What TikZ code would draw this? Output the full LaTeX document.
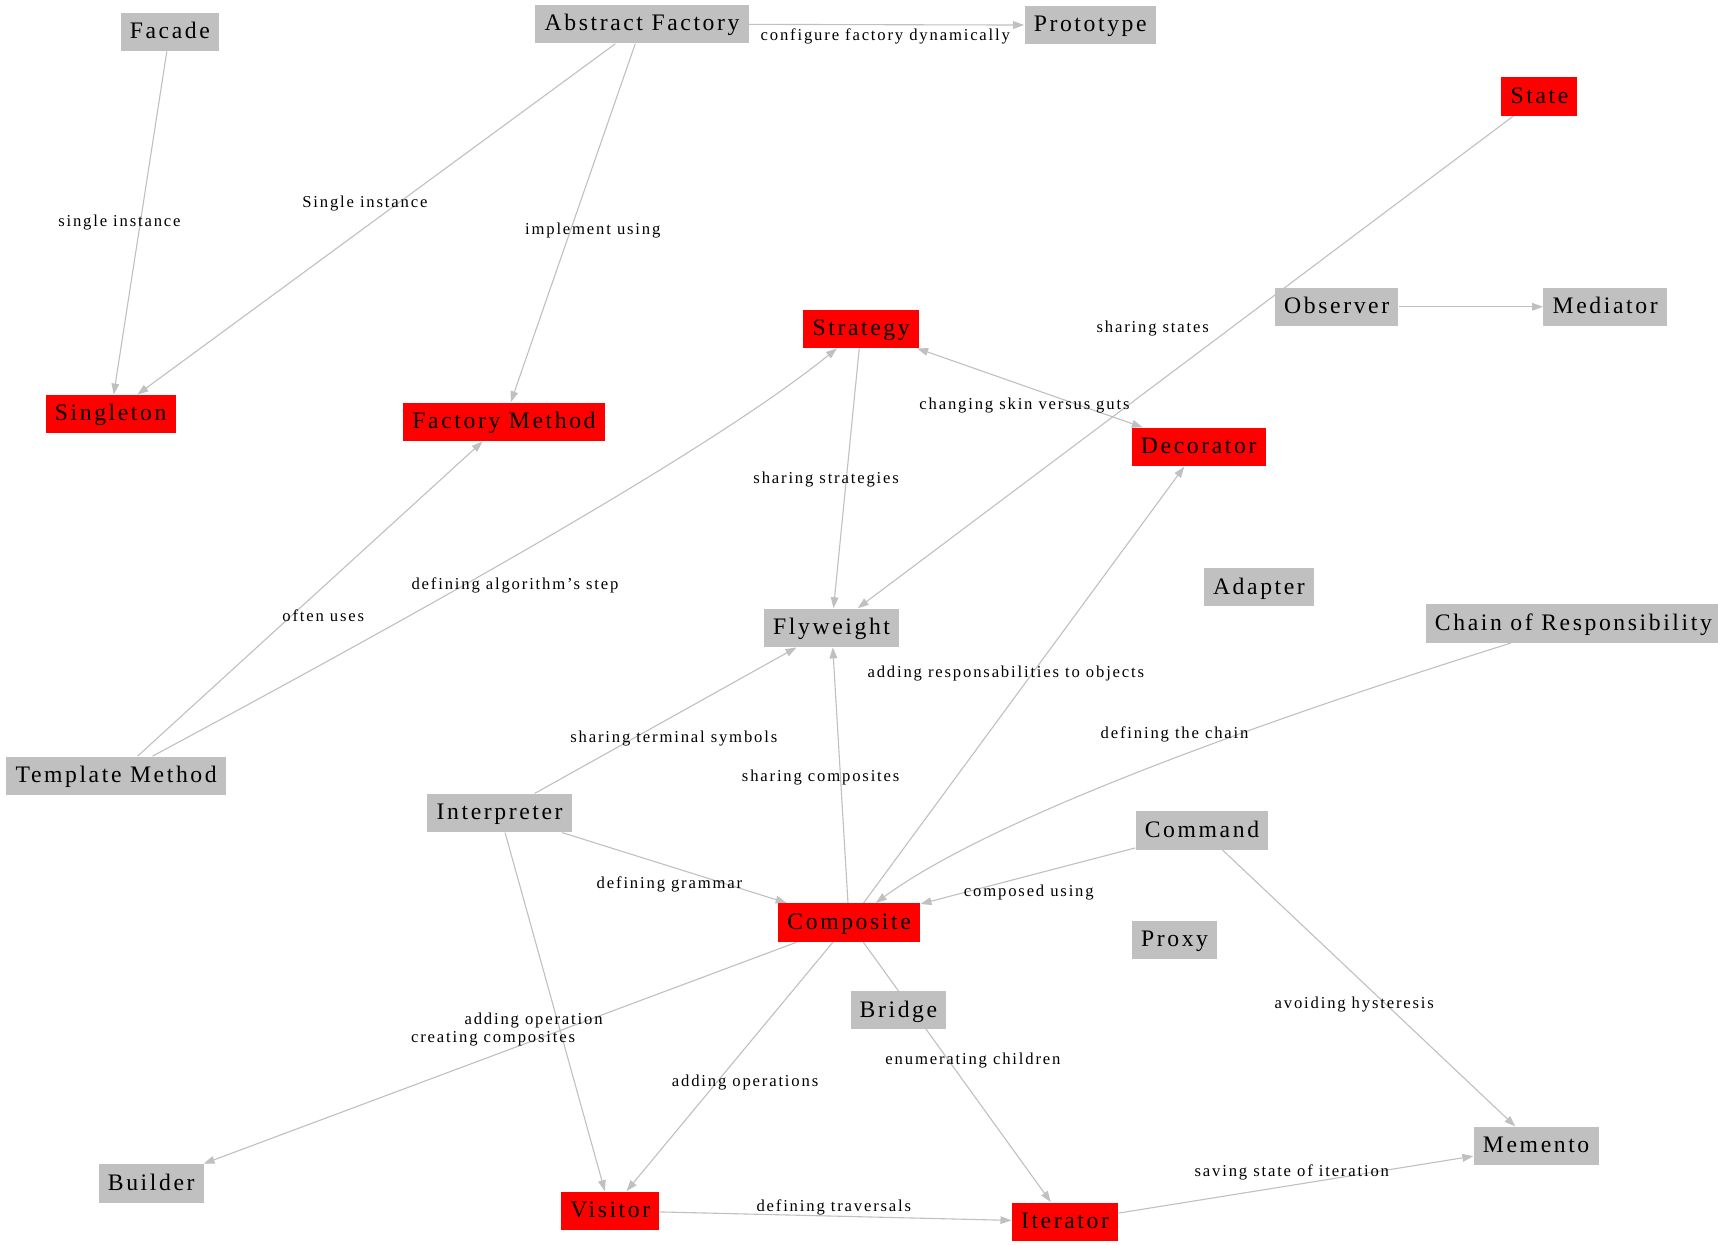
\documentclass[tikz,border=0pt]{standalone}
\usepackage{fontspec}
\setmainfont{Liberation Serif}
\newfontfamily\patfont[LetterSpace=11]{Liberation Serif}
\usetikzlibrary{arrows.meta,backgrounds}
\definecolor{patgray}{RGB}{192,192,192}
\definecolor{patred}{RGB}{255,0,0}
\tikzset{
  pat/.style={fill=patgray,inner xsep=4.2pt,inner ysep=0pt,minimum height=17.5pt,
              text height=7.6pt,text depth=1.4pt,
              font=\patfont\fontsize{10.8}{12}\selectfont},
  patr/.style={pat,fill=patred},
  lbl/.style={font=\patfont\fontsize{7.6}{9}\selectfont,inner sep=1pt,yshift=-1pt},
  fl/.style={-{Triangle[length=5pt,width=3.5pt]},draw=patgray,fill=none,line width=0.5pt},
  flb/.style={fl,{Triangle[length=5pt,width=3.5pt]}-{Triangle[length=5pt,width=3.5pt]}},
}

\begin{document}
\begin{tikzpicture}[x=0.5pt, y=-0.5pt]
  \useasboundingbox (0,0) rectangle (1568,1136);
  % patterns
  \node[pat]  (fac)     at (155,29)   {Facade};
  \node[pat]  (af)      at (586,22)   {Abstract Factory};
  \node[pat]  (proto)   at (995,23)   {Prototype};
  \node[patr] (state)   at (1405,88)  {State};
  \node[pat]  (obs)     at (1220,280) {Observer};
  \node[pat]  (med)     at (1465,280) {Mediator};
  \node[patr] (strat)   at (786,300)  {Strategy};
  \node[patr] (single)  at (101,378)  {Singleton};
  \node[patr] (fm)      at (460,385)  {Factory Method};
  \node[patr] (deco)    at (1094,408) {Decorator};
  \node[pat]  (adapt)   at (1149,536) {Adapter};
  \node[pat]  (fly)     at (759,573)  {Flyweight};
  \node[pat]  (chain)   at (1436,569) {Chain of Responsibility};
  \node[pat]  (tm)      at (106,708)  {Template Method};
  \node[pat]  (interp)  at (456,742)  {Interpreter};
  \node[pat]  (cmd)     at (1097,758) {Command};
  \node[patr] (comp)    at (775,842)  {Composite};
  \node[pat]  (proxy)   at (1072,858) {Proxy};
  \node[pat]  (bridge)  at (820,922)  {Bridge};
  \node[pat]  (mem)     at (1402,1046) {Memento};
  \node[pat]  (builder) at (138,1080) {Builder};
  \node[patr] (visit)   at (557,1105) {Visitor};
  \node[patr] (iter)    at (972,1115) {Iterator};
  % relations
  \begin{scope}[on background layer]
    \fill[white] (0,0) rectangle (1568,1136);
    \draw[fl] (fac) -- (single);
    \draw[fl] (af) -- (single);
    \draw[fl] (af) -- (fm);
    \draw[fl] (af) -- (proto);
    \draw[fl] (state) -- (fly);
    \draw[fl] (obs) -- (med);
    \draw[flb] (strat) -- (deco);
    \draw[fl] (strat) -- (fly);
    \draw[fl] (tm) -- (fm);
    \draw[fl] (tm) .. controls (400,550) and (650,410) .. (strat);
    \draw[fl] (interp) -- (fly);
    \draw[fl] (comp) -- (fly);
    \draw[fl] (comp) -- (deco);
    \draw[fl] (chain) .. controls (1130,665) and (900,750) .. (comp);
    \draw[fl] (interp) -- (comp);
    \draw[fl] (cmd) -- (comp);
    \draw[fl] (cmd) -- (mem);
    \draw[fl] (interp) -- (visit);
    \draw[fl] (comp) -- (builder);
    \draw[fl] (comp) -- (visit);
    \draw[fl] (comp) -- (iter);
    \draw[fl] (visit) -- (iter);
    \draw[fl] (iter) -- (mem);
  \end{scope}
  % edge labels
  \node[lbl] at (109,201)  {single instance};
  \node[lbl] at (333,184)  {Single instance};
  \node[lbl] at (541,208)  {implement using};
  \node[lbl] at (808,31)   {configure factory dynamically};
  \node[lbl] at (1052,298) {sharing states};
  \node[lbl] at (935,368)  {changing skin versus guts};
  \node[lbl] at (754,436)  {sharing strategies};
  \node[lbl] at (295,560)  {often uses};
  \node[lbl] at (470,532)  {defining algorithm’s step};
  \node[lbl] at (918,613)  {adding responsabilities to objects};
  \node[lbl] at (615,672)  {sharing terminal symbols};
  \node[lbl] at (1072,668) {defining the chain};
  \node[lbl] at (749,708)  {sharing composites};
  \node[lbl] at (611,805)  {defining grammar};
  \node[lbl] at (939,813)  {composed using};
  \node[lbl] at (1236,915) {avoiding hysteresis};
  \node[lbl] at (487,929)  {adding operation};
  \node[lbl] at (450,946)  {creating composites};
  \node[lbl] at (888,966)  {enumerating children};
  \node[lbl] at (680,986)  {adding operations};
  \node[lbl] at (1179,1068) {saving state of iteration};
  \node[lbl] at (761,1100) {defining traversals};
\end{tikzpicture}
\end{document}
